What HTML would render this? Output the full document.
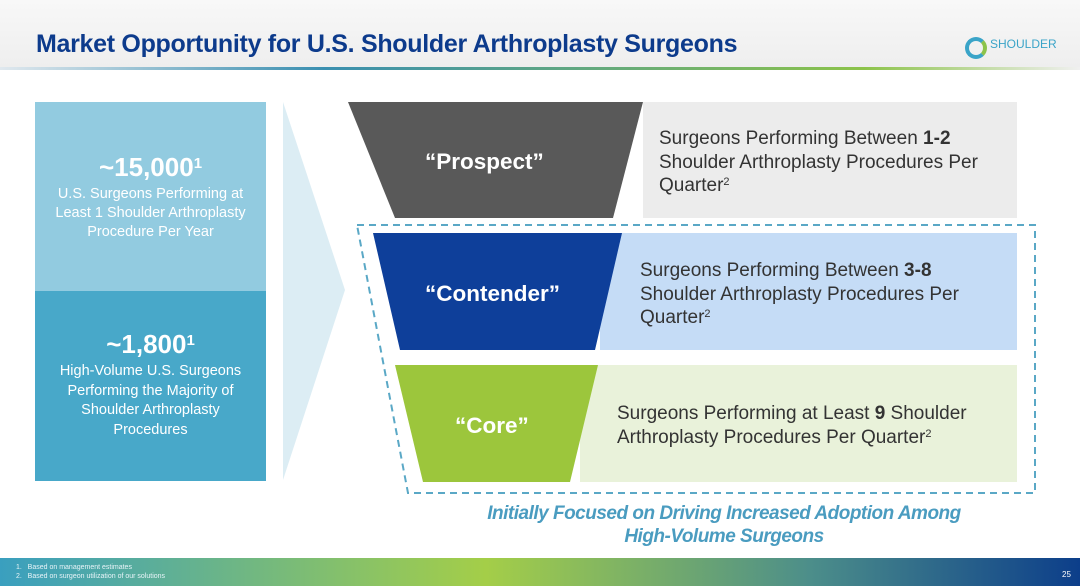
<!DOCTYPE html><html><head><style>
body{margin:0;width:1080px;height:586px;overflow:hidden;font-family:"Liberation Sans",sans-serif;background:#fff;position:relative}
.a{position:absolute}
sup{line-height:0;vertical-align:0.55em}
</style></head><body>
<div class="a" style="left:0;top:0;width:1080px;height:68px;background:linear-gradient(#f8f8f8,#eeeeee)"></div>
<div class="a" style="left:0;top:67px;width:1080px;height:3px;background:linear-gradient(90deg,#e0e8ee,#3a8fb0 30%,#8cc34a 80%,#f0f0f0)"></div>
<div class="a" style="left:36px;top:30px;font-size:25px;font-weight:bold;color:#0d3b8c;letter-spacing:-0.3px">Market Opportunity for U.S. Shoulder Arthroplasty Surgeons</div>
<div class="a" style="left:965px;top:37px;width:14px;height:14px;border-radius:50%;border:4px solid #3aa4c8;border-right-color:#8cc34a"></div>
<div class="a" style="left:990px;top:37px;font-size:12px;color:#3aa4c8">SHOULDER</div>
<div class="a" style="left:35px;top:102px;width:231px;height:189px;background:#92cbe0;color:#fff;text-align:center">
<div style="font-size:26px;font-weight:bold;margin-top:50px">~15,000<sup style="font-size:15px">1</sup></div>
<div style="font-size:14.5px;line-height:19px;margin-top:2px">U.S. Surgeons Performing at<br>Least 1 Shoulder Arthroplasty<br>Procedure Per Year</div></div>
<div class="a" style="left:35px;top:291px;width:231px;height:190px;background:#48a8c9;color:#fff;text-align:center">
<div style="font-size:26px;font-weight:bold;margin-top:38px">~1,800<sup style="font-size:15px">1</sup></div>
<div style="font-size:14.5px;line-height:19.5px;margin-top:2px">High-Volume U.S. Surgeons<br>Performing the Majority of<br>Shoulder Arthroplasty<br>Procedures</div></div>
<svg class="a" style="left:0;top:0" width="1080" height="586">
<defs><linearGradient id="g"><stop offset="0" stop-color="#3a9fbf"/><stop offset="0.45" stop-color="#a4ce48"/><stop offset="0.75" stop-color="#4c8e8a"/><stop offset="1" stop-color="#0c3e8a"/></linearGradient></defs>
<polygon points="283,102 345,290 283,480" fill="#dcedf4"/>
<rect x="643" y="102" width="374" height="116" fill="#ececec"/>
<polygon points="348,102 643,102 613,218 395,218" fill="#595959"/>
<rect x="600" y="233" width="417" height="117" fill="#c5dcf6"/>
<polygon points="373,233 622,233 595,350 400,350" fill="#0e3f9a"/>
<rect x="580" y="365" width="437" height="117" fill="#e9f2da"/>
<polygon points="395,365 598,365 570,482 423,482" fill="#9cc63c"/>
<polygon points="357,225 1035,225 1035,493 408,493" fill="none" stroke="#5aa8c6" stroke-width="2" stroke-dasharray="7,5"/>
<rect x="0" y="558" width="1080" height="28" fill="url(#g)"/>
</svg>
<div class="a" style="left:425px;top:149px;font-size:22.5px;font-weight:bold;color:#fff">“Prospect”</div>
<div class="a" style="left:425px;top:281px;font-size:22.5px;font-weight:bold;color:#fff">“Contender”</div>
<div class="a" style="left:455px;top:413px;font-size:22.5px;font-weight:bold;color:#fff">“Core”</div>
<div class="a" style="left:659px;top:127px;font-size:19px;line-height:23.5px;color:#333">Surgeons Performing Between <b>1-2</b><br>Shoulder Arthroplasty Procedures Per<br>Quarter<sup style="font-size:11px">2</sup></div>
<div class="a" style="left:640px;top:259px;font-size:19px;line-height:23.5px;color:#333">Surgeons Performing Between <b>3-8</b><br>Shoulder Arthroplasty Procedures Per<br>Quarter<sup style="font-size:11px">2</sup></div>
<div class="a" style="left:617px;top:402px;font-size:19px;line-height:23.5px;color:#333">Surgeons Performing at Least <b>9</b> Shoulder<br>Arthroplasty Procedures Per Quarter<sup style="font-size:11px">2</sup></div>
<div class="a" style="left:424px;top:502px;width:600px;text-align:center;font-size:19px;line-height:23px;font-weight:bold;font-style:italic;color:#4a9cc0;letter-spacing:-0.5px">Initially Focused on Driving Increased Adoption Among<br>High-Volume Surgeons</div>
<div class="a" style="left:16px;top:563px;font-size:7px;line-height:9px;color:#e8f4f8">1.&nbsp;&nbsp;&nbsp;Based on management estimates<br>2.&nbsp;&nbsp;&nbsp;Based on surgeon utilization of our solutions</div>
<div class="a" style="left:1062px;top:570px;font-size:8px;color:#fff">25</div>
</body></html>
